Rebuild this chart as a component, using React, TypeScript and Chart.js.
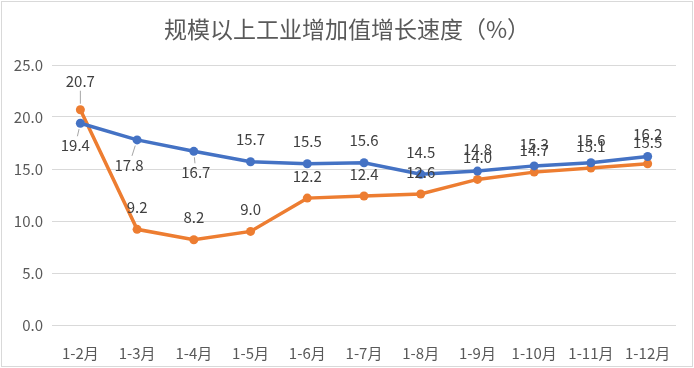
import React, { useEffect, useRef } from "react";
import { Chart, registerables } from "chart.js";

Chart.register(...registerables);

const titleText = "规模以上工业增加值增长速度（%）";
const categories = ["1-2月", "1-3月", "1-4月", "1-5月", "1-6月", "1-7月", "1-8月", "1-9月", "1-10月", "1-11月", "1-12月"];
const blueValues = [19.4, 17.8, 16.7, 15.7, 15.5, 15.6, 14.5, 14.8, 15.3, 15.6, 16.2];
const orangeValues = [20.7, 9.2, 8.2, 9.0, 12.2, 12.4, 12.6, 14.0, 14.7, 15.1, 15.5];
const yMin = 0;
const yMax = 25;
const yStep = 5;

// label placement (style only): [dx, dy, leaderLine]
const blueLabelPlacement: [number, number, boolean][] = [
  [-5, 22, true], [-8, 25, true], [2, 21, true], [0, -22, false], [0, -23, false], [0, -22, false],
  [0, -22, false], [0, -22, false], [0, -22, false], [0, -22, false], [0, -22, false],
];
const orangeLabelPlacement: [number, number, boolean][] = [
  [0, -28, true], [0, -22, false], [0, -22, false], [0, -22, false], [0, -22, false], [0, -22, false],
  [0, -22, false], [0, -22, false], [0, -22, false], [0, -22, false], [0, -22, false],
];

const FONT = "'Noto Sans CJK SC', 'Noto Sans', sans-serif";
const BLUE = "#4472C4";
const ORANGE = "#ED7D31";

const decorPlugin = {
  id: "decor",
  beforeDraw(chart: any) {
    const ctx = chart.ctx;
    ctx.save();
    ctx.fillStyle = "#ffffff";
    ctx.fillRect(0, 0, chart.width, chart.height);
    ctx.strokeStyle = "#d9d9d9";
    ctx.lineWidth = 1;
    ctx.strokeRect(1.5, 1.5, chart.width - 3, chart.height - 3);
    ctx.fillStyle = "#595959";
    ctx.font = `23px ${FONT}`;
    ctx.textAlign = "center";
    ctx.textBaseline = "middle";
    ctx.fillText(titleText, chart.width / 2, 29);
    ctx.restore();
  },
  afterDatasetsDraw(chart: any) {
    const ctx = chart.ctx;
    const placements = [blueLabelPlacement, orangeLabelPlacement];
    ctx.save();
    ctx.font = `15px ${FONT}`;
    ctx.textAlign = "center";
    ctx.textBaseline = "middle";
    chart.data.datasets.forEach((ds: any, di: number) => {
      const meta = chart.getDatasetMeta(di);
      meta.data.forEach((pt: any, i: number) => {
        const [dx, dy, leader] = placements[di][i];
        const lx = pt.x + dx;
        const ly = pt.y + dy;
        if (leader) {
          const vx = lx - pt.x;
          const vy = ly - pt.y;
          const len = Math.sqrt(vx * vx + vy * vy);
          const t0 = 6 / len;
          const t1 = (Math.abs(vy) - 9) / Math.abs(vy);
          if (t1 > t0) {
            ctx.strokeStyle = "#a6a6a6";
            ctx.lineWidth = 1;
            ctx.beginPath();
            ctx.moveTo(pt.x + vx * t0, pt.y + vy * t0);
            ctx.lineTo(pt.x + vx * t1, pt.y + vy * t1);
            ctx.stroke();
          }
        }
        ctx.fillStyle = "#404040";
        ctx.fillText(Number(ds.data[i]).toFixed(1), lx, ly);
      });
    });
    ctx.restore();
  },
};

export default function App() {
  const canvasRef = useRef<HTMLCanvasElement | null>(null);

  useEffect(() => {
    const canvas = canvasRef.current;
    if (!canvas) return;
    const chart = new Chart(canvas, {
      type: "line",
      data: {
        labels: categories,
        datasets: [
          {
            label: "A",
            data: blueValues,
            borderColor: BLUE,
            backgroundColor: BLUE,
            borderWidth: 3.5,
            pointRadius: 4.5,
            pointBorderWidth: 0,
            pointBackgroundColor: BLUE,
            pointBorderColor: BLUE,
            tension: 0,
          },
          {
            label: "B",
            data: orangeValues,
            borderColor: ORANGE,
            backgroundColor: ORANGE,
            borderWidth: 3.5,
            pointRadius: 4.5,
            pointBorderWidth: 0,
            pointBackgroundColor: ORANGE,
            pointBorderColor: ORANGE,
            tension: 0,
          },
        ],
      },
      options: {
        responsive: false,
        animation: false,
        devicePixelRatio: 1,
        layout: { padding: { top: 65, right: 18, left: 0, bottom: 0 } },
        plugins: {
          legend: { display: false },
          title: { display: false },
          tooltip: { enabled: false },
        },
        scales: {
          x: {
            offset: true,
            grid: { display: false },
            border: { display: false },
            ticks: {
              color: "#595959",
              font: { family: FONT, size: 15 },
              padding: 11,
              maxRotation: 0,
              autoSkip: false,
            },
            afterFit(scale: any) {
              scale.height = 43;
            },
          },
          y: {
            min: yMin,
            max: yMax,
            grid: { color: "#d9d9d9", lineWidth: 1, drawTicks: false },
            border: { display: false },
            ticks: {
              stepSize: yStep,
              color: "#595959",
              font: { family: FONT, size: 15 },
              padding: 9,
              callback: (v: any) => Number(v).toFixed(1),
            },
            afterFit(scale: any) {
              scale.width = 52;
            },
          },
        },
      },
      plugins: [decorPlugin],
    });
    return () => chart.destroy();
  }, []);

  return (
    <div style={{ position: "absolute", left: 0, top: 0, width: 694, height: 368, background: "#fff" }}>
      <canvas ref={canvasRef} width={694} height={368} style={{ display: "block", width: 694, height: 368 }} />
    </div>
  );
}
